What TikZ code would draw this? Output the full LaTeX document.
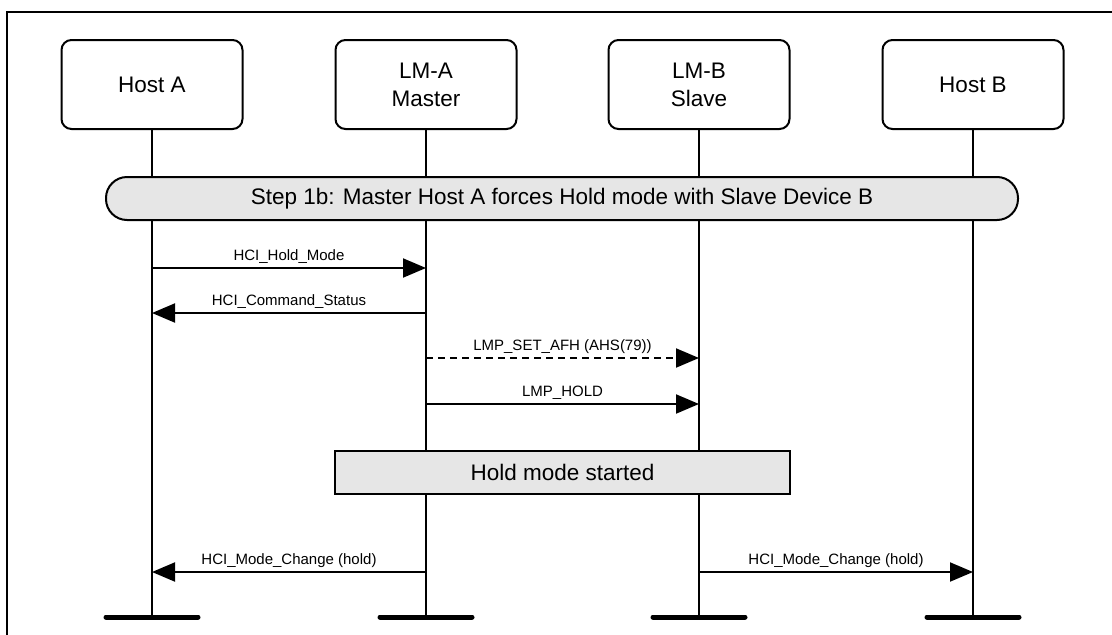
\documentclass[tikz,border=0pt]{standalone}
\usepackage{fontspec}
\setmainfont{Liberation Sans}
\usetikzlibrary{arrows.meta,positioning}
\definecolor{shade}{HTML}{E6E6E6}
\tikzset{head/.style={draw,line width=2pt,rounded corners=10pt,minimum width=181pt,minimum height=89pt,align=center,font=\fontsize{22.5}{28}\selectfont},band/.style={draw,fill=shade,line width=2pt,rounded corners=21pt,minimum width=912pt,minimum height=43pt,font=\fontsize{22.5}{27}\selectfont},note/.style={draw,fill=shade,line width=2pt,minimum width=455pt,minimum height=43pt,font=\fontsize{22.5}{27}\selectfont},life/.style={line width=2pt},bar/.style={line width=5pt,line cap=round},arrow/.style={-{Triangle[length=23pt,width=19pt]},line width=2pt},lab/.style={font=\fontsize{15}{18}\selectfont,above=7pt,inner sep=0pt,text depth=0pt}}

\begin{document}
\begin{tikzpicture}[x=1pt,y=-1pt]
\useasboundingbox (0,0) rectangle (1112,635);
\draw[line width=2pt] (7,640) |- (1120,12);
\node[head] (ha) at (152,84.5) {Host A};
\node[head] (lma) at (426,84.5) {LM-A\\Master};
\node[head] (lmb) at (699,84.5) {LM-B\\Slave};
\node[head] (hb) at (973,84.5) {Host B};
\foreach \n in {ha,lma,lmb,hb}{\coordinate (\n end) at (\n |- 0,617);\draw[life] (\n) -- (\n end);\draw[bar] ([xshift=-46pt]\n end) -- ([xshift=46pt]\n end);}
\node[band] (step) at (562,198.5) {Step 1b: Master Host A forces Hold mode with Slave Device B};
\foreach \y [count=\i] in {268,313,358,404,572} \coordinate (m\i) at (0,\y);
\draw[arrow] (ha |- m1) -- node[lab] {HCI\_Hold\_Mode} (lma |- m1);
\draw[arrow] (lma |- m2) -- node[lab] {HCI\_Command\_Status} (ha |- m2);
\draw[arrow,dash pattern=on 7pt off 5pt] (lma |- m3) -- node[lab] {LMP\_SET\_AFH (AHS(79))} (lmb |- m3);
\draw[arrow] (lma |- m4) -- node[lab] {LMP\_HOLD} (lmb |- m4);
\node[note] (hold) at (562.5,472.5) {Hold mode started};
\draw[arrow] (lma |- m5) -- node[lab] {HCI\_Mode\_Change (hold)} (ha |- m5);
\draw[arrow] (lmb |- m5) -- node[lab] {HCI\_Mode\_Change (hold)} (hb |- m5);
\end{tikzpicture}
\end{document}
